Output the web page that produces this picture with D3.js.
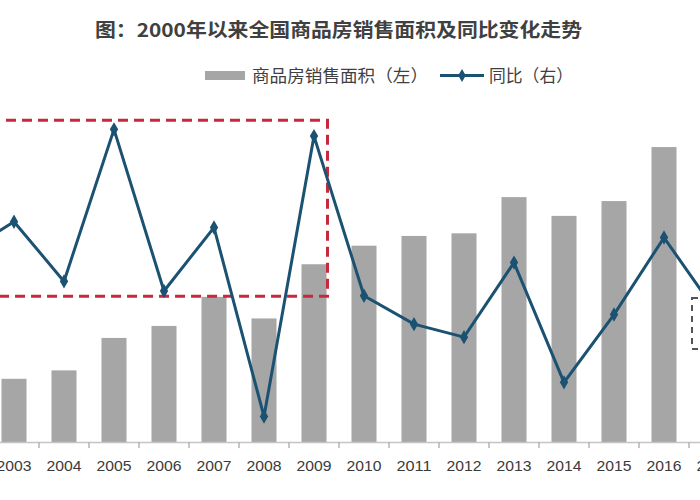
<!DOCTYPE html>
<html>
<head>
<meta charset="utf-8">
<script src="https://cdn.jsdelivr.net/npm/d3@7/dist/d3.min.js"></script>
<style>
  html, body { margin: 0; padding: 0; background: #fff; }
  svg { display: block; }
</style>
</head>
<body>
<svg id="chart" width="700" height="500"></svg>
<script>
// ---- data ----
const years = ["2002","2003","2004","2005","2006","2007","2008","2009","2010","2011","2012","2013","2014","2015","2016","2017"];
const salesArea = [2.68, 3.37, 3.82, 5.55, 6.19, 7.74, 6.59, 9.48, 10.47, 10.99, 11.13, 13.06, 12.06, 12.85, 15.73, 16.94]; // 亿平方米
const yoy = [19.3, 25.8, 13.4, 45.0, 11.4, 24.6, -14.7, 43.6, 10.4, 4.5, 1.8, 17.3, -7.6, 6.5, 22.5, 7.7]; // %
const titleText = "图：2000年以来全国商品房销售面积及同比变化走势";
const legendBar = "商品房销售面积（左）";
const legendLine = "同比（右）";

// ---- layout ----
const svg = d3.select("#chart");
const axisY = 442;
const font = "'Noto Sans CJK SC', 'Noto Sans', sans-serif";

const x = d3.scaleBand().domain(years).range([-61, 739]).paddingInner(0.5).paddingOuter(0.25);
const yL = d3.scaleLinear().domain([0, 20]).range([axisY, axisY - 20 * 18.75]);
const yR = d3.scaleLinear().domain([-20, 50]).range([axisY, axisY - 70 * 4.81]);
const step = x.step();

// bars
svg.append("g").selectAll("rect").data(years).join("rect")
  .attr("x", (d) => x(d))
  .attr("width", x.bandwidth())
  .attr("y", (d, i) => yL(salesArea[i]))
  .attr("height", (d, i) => axisY - yL(salesArea[i]))
  .attr("fill", "#a6a6a6");

// x axis
const xAxis = d3.axisBottom(x).tickSize(0).tickPadding(18);
const gx = svg.append("g").attr("transform", `translate(0,${axisY})`).call(xAxis);
gx.select(".domain").attr("stroke", "#c4c4c4").attr("stroke-width", 1.5).attr("d", "M-70,0.5H770");
gx.selectAll("text")
  .attr("font-family", "'Liberation Sans', Arial, sans-serif")
  .attr("font-size", 15)
  .attr("fill", "#3a3a3a")
  .attr("textLength", 35)
  .attr("lengthAdjust", "spacingAndGlyphs");
// boundary ticks between categories
svg.append("g").selectAll("line").data(years).join("line")
  .attr("x1", (d) => x(d) + x.bandwidth() / 2 + step / 2)
  .attr("x2", (d) => x(d) + x.bandwidth() / 2 + step / 2)
  .attr("y1", axisY)
  .attr("y2", axisY + 6)
  .attr("stroke", "#b5b5b5")
  .attr("stroke-width", 1.5);

// red dashed box (2000-2009 annotation)
const boxRight = x("2009") + x.bandwidth() + 1;
svg.append("rect")
  .attr("x", -10).attr("y", yR(46.9))
  .attr("width", boxRight + 10).attr("height", yR(10.4) - yR(46.9) + 0.5)
  .attr("fill", "none")
  .attr("stroke", "#c8283c")
  .attr("stroke-width", 3)
  .attr("stroke-dasharray", "10 6");

// grey dashed box (2017 annotation, mostly cropped)
svg.append("rect")
  .attr("x", x("2017") - 9.5).attr("y", 298)
  .attr("width", 60).attr("height", 51)
  .attr("fill", "none")
  .attr("stroke", "#555")
  .attr("stroke-width", 2)
  .attr("stroke-dasharray", "6 5");

// yoy line
const cx = (d) => x(d) + x.bandwidth() / 2;
const line = d3.line().x((d, i) => cx(years[i])).y((d) => yR(d));
svg.append("path")
  .datum(yoy)
  .attr("d", line)
  .attr("fill", "none")
  .attr("stroke", "#1b5272")
  .attr("stroke-width", 3)
  .attr("stroke-linejoin", "miter");
svg.append("g").selectAll("path").data(yoy).join("path")
  .attr("transform", (d, i) => `translate(${cx(years[i])},${yR(d)})`)
  .attr("d", d3.symbol(d3.symbolDiamond, 60))
  .attr("fill", "#1b5272");

// title
svg.append("text")
  .attr("x", 95).attr("y", 37)
  .attr("font-family", font)
  .attr("font-weight", "bold")
  .attr("font-size", 19)
  .attr("fill", "#404040")
  .attr("textLength", 487)
  .attr("lengthAdjust", "spacingAndGlyphs")
  .text(titleText);

// legend
const lg = svg.append("g");
lg.append("rect").attr("x", 205).attr("y", 71).attr("width", 40).attr("height", 9).attr("fill", "#a6a6a6");
lg.append("text")
  .attr("x", 252).attr("y", 82)
  .attr("font-family", font).attr("font-size", 17).attr("fill", "#404040")
  .attr("textLength", 176).attr("lengthAdjust", "spacingAndGlyphs")
  .text(legendBar);
lg.append("line").attr("x1", 440).attr("x2", 484).attr("y1", 75.5).attr("y2", 75.5)
  .attr("stroke", "#1b5272").attr("stroke-width", 3);
lg.append("path").attr("transform", "translate(462,75.5)")
  .attr("d", d3.symbol(d3.symbolDiamond, 50)).attr("fill", "#1b5272");
lg.append("text")
  .attr("x", 489).attr("y", 82)
  .attr("font-family", font).attr("font-size", 17).attr("fill", "#404040")
  .attr("textLength", 84).attr("lengthAdjust", "spacingAndGlyphs")
  .text(legendLine);
</script>
</body>
</html>
